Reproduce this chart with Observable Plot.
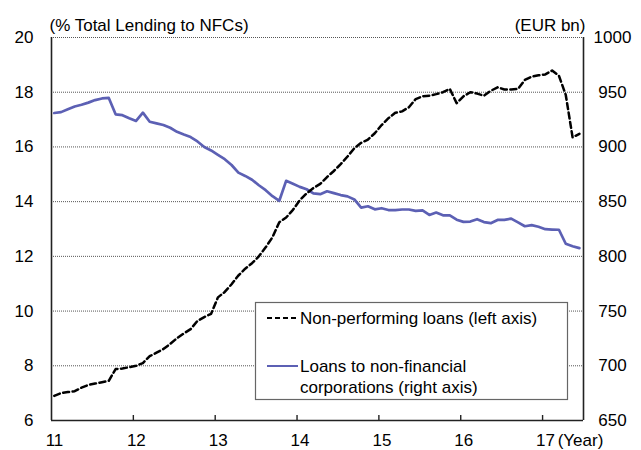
<!DOCTYPE html>
<html>
<head>
<meta charset="utf-8">
<script src="https://cdn.jsdelivr.net/npm/d3@7"></script>
<script src="https://cdn.jsdelivr.net/npm/@observablehq/plot@0.6"></script>
<style>
  html, body { margin: 0; padding: 0; background: white; }
  #wrap { position: relative; width: 641px; height: 450px; font-family: "Liberation Sans", Arial, sans-serif; }
  #legend { position: absolute; left: 0; top: 0; pointer-events: none; }
</style>
</head>
<body>
<div id="wrap"></div>
<script>
// Non-performing loans, % of total lending to NFCs (left axis), monthly Jan 2011 – Jun 2017
const npl = [
  6.90, 7.00, 7.04, 7.07, 7.20, 7.30, 7.35, 7.40, 7.45, 7.88, 7.90, 7.95,
  8.00, 8.10, 8.35, 8.48, 8.61, 8.80, 9.01, 9.18, 9.34, 9.64, 9.78, 9.90,
  10.50, 10.70, 10.98, 11.30, 11.55, 11.75, 12.00, 12.33, 12.70, 13.25, 13.42, 13.70,
  14.05, 14.30, 14.50, 14.65, 14.90, 15.12, 15.37, 15.65, 15.95, 16.15, 16.27, 16.50,
  16.80, 17.05, 17.25, 17.30, 17.45, 17.75, 17.85, 17.87, 17.93, 18.00, 18.12, 17.60,
  17.85, 18.00, 17.95, 17.87, 18.05, 18.18, 18.10, 18.10, 18.12, 18.45, 18.57, 18.62,
  18.65, 18.79, 18.60, 17.90, 16.35, 16.48
];
// Loans to non-financial corporations, EUR bn (right axis)
const loans = [
  931.0, 931.8, 934.5, 937.0, 938.5, 940.5, 942.8, 944.3, 944.8, 929.8, 929.0, 926.3,
  923.8, 931.3, 923.0, 921.5, 920.0, 917.5, 913.8, 911.3, 909.0, 905.0, 900.0, 896.8,
  892.8, 888.8, 883.5, 876.5, 873.5, 870.0, 865.0, 860.5, 855.0, 850.8, 869.0, 866.3,
  863.5, 861.3, 857.5, 856.8, 859.5, 857.8, 856.0, 854.8, 852.0, 844.5, 845.8, 843.0,
  844.0, 842.3, 842.3, 842.8, 842.8, 841.5, 842.0, 837.8, 840.0, 837.5, 837.5, 833.5,
  831.5, 831.8, 834.0, 831.3, 830.3, 833.3, 833.3, 834.5, 831.0, 827.5, 828.5, 827.0,
  824.8, 824.5, 824.3, 811.5, 809.3, 807.5
];
const startYear = 11;
const xTickLabels = [11, 12, 13, 14, 15, 16, 17];
const xTickMarks = [12, 13, 14, 15, 16, 17];
const leftTicks = [6, 8, 10, 12, 14, 16, 18, 20];
const gridTicks = [8, 10, 12, 14, 16, 18, 20];
const rightTicks = [650, 700, 750, 800, 850, 900, 950, 1000];
const leftTitle = "(% Total Lending to NFCs)";
const rightTitle = "(EUR bn)";
const xUnit = "(Year)";
const seriesNames = ["Non-performing loans (left axis)", "Loans to non-financial", "corporations (right axis)"];

// map right-axis values onto the left-axis scale
const toLeft = v => 6 + (v - 650) / 25;
const fromLeft = l => Math.round(650 + (l - 6) * 25);
const monthX = i => startYear + (i + 0.4) / 12;

const nplData = npl.map((v, i) => ({x: monthX(i), y: v}));
const loanData = loans.map((v, i) => ({x: monthX(i), y: toLeft(v)}));

const chart = Plot.plot({
  width: 641,
  height: 450,
  marginLeft: 51,
  marginRight: 58,
  marginTop: 37,
  marginBottom: 30,
  x: {domain: [11, 17.5]},
  y: {domain: [6, 20]},
  style: {fontFamily: '"Liberation Sans", Arial, sans-serif', fontSize: "17px", color: "black", background: "white"},
  marks: [
    Plot.ruleY(gridTicks, {stroke: "#555", strokeWidth: 1, strokeDasharray: "1,1"}),
    Plot.line(loanData, {x: "x", y: "y", stroke: "#5c60b4", strokeWidth: 2.7}),
    Plot.line(nplData, {x: "x", y: "y", stroke: "black", strokeWidth: 2.5, strokeDasharray: "6,3.5"}),
    Plot.ruleY([6], {stroke: "#222", strokeWidth: 1.6}),
    Plot.ruleX([11, 17.5], {stroke: "#222", strokeWidth: 1.6}),
    Plot.ruleX(xTickMarks, {insetTop: 378, stroke: "#222", strokeWidth: 1.4}),
    Plot.axisY({anchor: "left", ticks: leftTicks, tickSize: 0, tickPadding: 18, label: null, fontSize: 17}),
    Plot.axisY({anchor: "right", ticks: rightTicks.map(toLeft), tickSize: 0, tickPadding: 29, textAnchor: "middle",
      tickFormat: d => String(fromLeft(d)), label: null, fontSize: 17}),
    Plot.axisX({ticks: xTickLabels, tickSize: 0, tickPadding: 13, dx: 3, tickFormat: d => String(d), label: null, fontSize: 17}),
    Plot.text([leftTitle], {frameAnchor: "top-left", textAnchor: "start", lineAnchor: "middle", dx: -2, dy: -12, fontSize: 17}),
    Plot.text([rightTitle], {frameAnchor: "top-right", textAnchor: "end", lineAnchor: "middle", dx: 2, dy: -12, fontSize: 17}),
    Plot.text([xUnit], {frameAnchor: "bottom-right", textAnchor: "middle", lineAnchor: "middle", dx: -3, dy: 20, fontSize: 17})
  ]
});

const wrap = document.getElementById("wrap");
wrap.appendChild(chart);

// legend overlay
const ns = "http://www.w3.org/2000/svg";
const lg = document.createElementNS(ns, "svg");
lg.setAttribute("id", "legend");
lg.setAttribute("width", 641);
lg.setAttribute("height", 450);
function el(tag, attrs, text) {
  const e = document.createElementNS(ns, tag);
  for (const k in attrs) e.setAttribute(k, attrs[k]);
  if (text) e.textContent = text;
  lg.appendChild(e);
  return e;
}
el("rect", {x: 255.5, y: 302.5, width: 312, height: 97, fill: "white", stroke: "#666", "stroke-width": 1.2});
el("line", {x1: 267, x2: 298, y1: 318, y2: 318, stroke: "black", "stroke-width": 2, "stroke-dasharray": "5,3"});
el("line", {x1: 267, x2: 298, y1: 366, y2: 366, stroke: "#5c60b4", "stroke-width": 2});
const tAttrs = {"font-family": '"Liberation Sans", Arial, sans-serif', "font-size": 17, fill: "black", "dominant-baseline": "central"};
el("text", Object.assign({x: 300, y: 318}, tAttrs), seriesNames[0]);
el("text", Object.assign({x: 300, y: 366}, tAttrs), seriesNames[1]);
el("text", Object.assign({x: 300, y: 387}, tAttrs), seriesNames[2]);
wrap.appendChild(lg);
</script>
</body>
</html>
